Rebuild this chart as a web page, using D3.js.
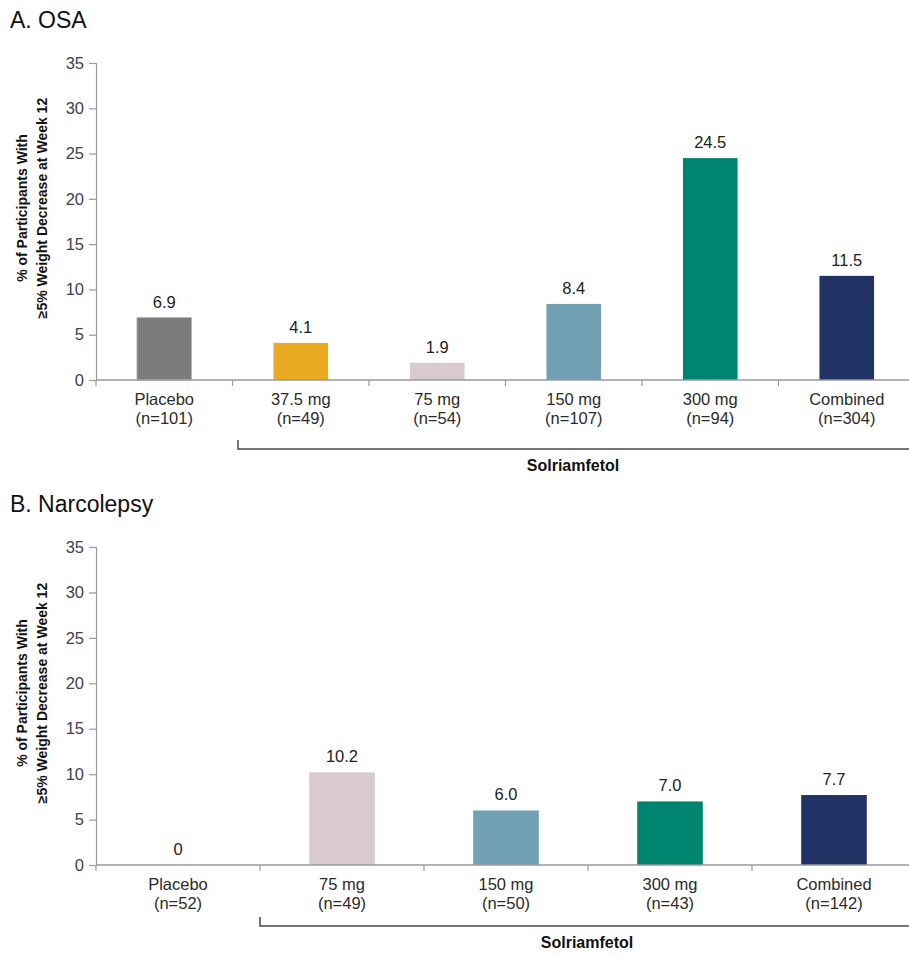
<!DOCTYPE html>
<html>
<head>
<meta charset="utf-8">
<script src="https://cdn.jsdelivr.net/npm/d3@7"></script>
<style>
  html, body { margin: 0; padding: 0; background: #fff; }
  svg { display: block; font-family: "Liberation Sans", Arial, sans-serif; }
</style>
</head>
<body>
<svg id="chart" width="909" height="956"></svg>
<script>
// Panel A: OSA
const osaGroups = ["Placebo", "37.5 mg", "75 mg", "150 mg", "300 mg", "Combined"];
const osaN = ["(n=101)", "(n=49)", "(n=54)", "(n=107)", "(n=94)", "(n=304)"];
const osaValues = [6.9, 4.1, 1.9, 8.4, 24.5, 11.5];
const osaLabels = ["6.9", "4.1", "1.9", "8.4", "24.5", "11.5"];

// Panel B: Narcolepsy
const narcGroups = ["Placebo", "75 mg", "150 mg", "300 mg", "Combined"];
const narcN = ["(n=52)", "(n=49)", "(n=50)", "(n=43)", "(n=142)"];
const narcValues = [0, 10.2, 6.0, 7.0, 7.7];
const narcLabels = ["0", "10.2", "6.0", "7.0", "7.7"];

const yTicks = [0, 5, 10, 15, 20, 25, 30, 35];

const doseColor = {
  "Placebo": "url(#placeboGrain)",
  "37.5 mg": "#eaaa22",
  "75 mg": "#d9cad2",
  "150 mg": "#72a1b5",
  "300 mg": "#008571",
  "Combined": "#213264"
};

const svg = d3.select("#chart");

// fine grain texture for the placebo bar
const defs = svg.append("defs");
const pat = defs.append("pattern")
  .attr("id", "placeboGrain").attr("patternUnits", "userSpaceOnUse")
  .attr("width", 2).attr("height", 2);
pat.append("rect").attr("width", 2).attr("height", 2).attr("fill", "#7b7b7b");
pat.append("rect").attr("width", 1).attr("height", 1).attr("fill", "#838383");
pat.append("rect").attr("x", 1).attr("y", 1).attr("width", 1).attr("height", 1).attr("fill", "#747474");

function drawPanel(opt) {
  const g = svg.append("g");

  g.append("text")
    .attr("x", 10).attr("y", opt.titleY)
    .attr("font-size", 23).attr("fill", "#111")
    .text(opt.title);

  const y = d3.scaleLinear().domain([0, 35]).range([opt.y0, opt.y35]);
  const x = d3.scaleBand().domain(opt.groups).range([96, opt.xEnd]).padding(0);
  const barW = x.bandwidth() * 0.4;

  // y axis
  const yAxis = g.append("g").attr("transform", "translate(96,0)")
    .call(d3.axisLeft(y).tickValues(yTicks).tickSize(7).tickPadding(5).tickFormat(d3.format("d")));
  yAxis.select(".domain").attr("stroke", "#9a9a9a").attr("stroke-width", 1.2);
  yAxis.selectAll(".tick line").attr("stroke", "#9a9a9a").attr("stroke-width", 1.2);
  yAxis.selectAll(".tick text").attr("font-size", 16.5).attr("fill", "#3b4252")
    .attr("font-family", "'Liberation Sans', Arial, sans-serif");

  // y axis title (two lines)
  const yMid = opt.titleMid;
  const yt = g.append("text")
    .attr("transform", `translate(0,${yMid}) rotate(-90)`)
    .attr("text-anchor", "middle").attr("font-weight", "bold")
    .attr("font-size", 14).attr("fill", "#111");
  yt.append("tspan").attr("x", 0).attr("y", 27).text("% of Participants With");
  yt.append("tspan").attr("x", 0).attr("y", 47).text("\u22655% Weight Decrease at Week 12");

  // bars
  g.selectAll("rect.bar").data(opt.values).join("rect")
    .attr("class", "bar")
    .attr("x", (d, i) => x(opt.groups[i]) + (x.bandwidth() - barW) / 2)
    .attr("width", barW)
    .attr("y", d => y(d))
    .attr("height", d => y(0) - y(d))
    .attr("fill", (d, i) => doseColor[opt.groups[i]])
    .attr("stroke", (d, i) => i === 0 ? "#b5b5b5" : "none")
    .attr("stroke-width", 0.8);

  // value labels
  g.selectAll("text.val").data(opt.values).join("text")
    .attr("class", "val")
    .attr("x", (d, i) => x(opt.groups[i]) + x.bandwidth() / 2)
    .attr("y", d => y(d) - 10)
    .attr("text-anchor", "middle").attr("font-size", 16.5).attr("fill", "#222")
    .text((d, i) => opt.labels[i]);

  // x axis line with category boundary ticks
  g.append("line")
    .attr("x1", 96).attr("x2", 909).attr("y1", y(0)).attr("y2", y(0))
    .attr("stroke", "#9a9a9a").attr("stroke-width", 1.5);
  const bounds = opt.groups.map(d => x(d)).concat([x.range()[1]]);
  g.selectAll("line.xt").data(bounds).join("line")
    .attr("class", "xt")
    .attr("x1", d => d).attr("x2", d => d)
    .attr("y1", y(0)).attr("y2", y(0) + 6)
    .attr("stroke", "#9a9a9a").attr("stroke-width", 1.2);

  // category labels
  opt.groups.forEach((grp, i) => {
    const cx = x(grp) + x.bandwidth() / 2;
    const t = g.append("text").attr("text-anchor", "middle").attr("font-size", 16.5).attr("fill", "#2b2b2b");
    t.append("tspan").attr("x", cx).attr("y", y(0) + 25).text(grp);
    t.append("tspan").attr("x", cx).attr("y", y(0) + 44).text(opt.n[i]);
  });

  // bracket grouping the active-dose arms
  g.append("path")
    .attr("d", `M${opt.bracketX},${opt.bracketTop}V${opt.bracketBottom}H909`)
    .attr("fill", "none").attr("stroke", "#4a4a4a").attr("stroke-width", 1.5);
  g.append("text")
    .attr("x", opt.solX).attr("y", opt.bracketBottom + 22)
    .attr("text-anchor", "middle").attr("font-weight", "bold")
    .attr("font-size", 16).attr("fill", "#111")
    .text("Solriamfetol");
}

drawPanel({
  title: "A. OSA", titleY: 28,
  groups: osaGroups, n: osaN, values: osaValues, labels: osaLabels,
  y0: 380, y35: 63, xEnd: 915, titleMid: 208,
  bracketX: 238, bracketTop: 440, bracketBottom: 449, solX: 573
});

drawPanel({
  title: "B. Narcolepsy", titleY: 512,
  groups: narcGroups, n: narcN, values: narcValues, labels: narcLabels,
  y0: 865, y35: 547, xEnd: 916, titleMid: 693,
  bracketX: 260, bracketTop: 917, bracketBottom: 926, solX: 587
});
</script>
</body>
</html>
